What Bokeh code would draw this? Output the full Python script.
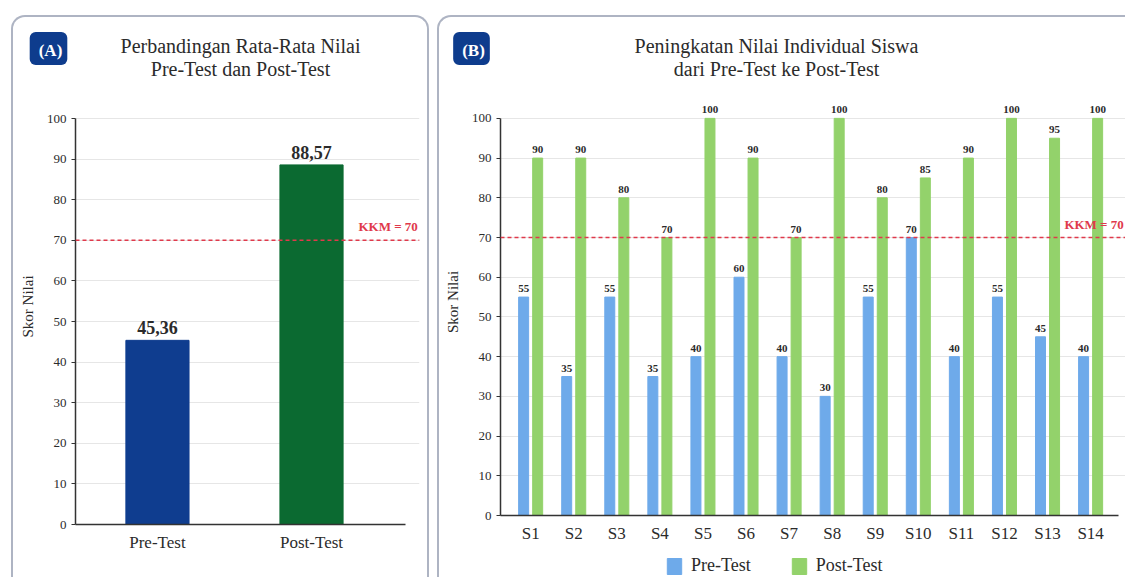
from bokeh.plotting import figure
from bokeh.models import (Range1d, ColumnDataSource, LabelSet, Label, Span,
                          Legend, LegendItem, FixedTicker)
from bokeh.layouts import row, column
from bokeh.embed import file_html
from bokeh.resources import INLINE

# ---------------- data ----------------
groups = ["Pre-Test", "Post-Test"]
group_means = [45.36, 88.57]
group_colors = ["#0f3d8f", "#0b6a31"]

students = ["S1", "S2", "S3", "S4", "S5", "S6", "S7", "S8", "S9", "S10",
            "S11", "S12", "S13", "S14"]
pre_scores = [55, 35, 55, 35, 40, 60, 40, 30, 55, 70, 40, 55, 45, 40]
post_scores = [90, 90, 80, 70, 100, 90, 70, 100, 80, 85, 90, 100, 95, 100]
series_names = ["Pre-Test", "Post-Test"]

kkm = 70
y_ticks = list(range(0, 101, 10))

SERIF = "Liberation Serif"
TXT = "#2b2b2b"
PRE_C = "#6eaaea"
POST_C = "#93d26b"
KKM_C = "#e0394b"
BORDER = "2px solid #aeb4c3"
HEAD_H = 63


def bare(p):
    p.outline_line_color = None
    p.border_fill_color = None
    p.background_fill_color = None
    p.frame_align = False


def style_axes(p, xbounds):
    p.xgrid.visible = False
    p.ygrid.ticker = FixedTicker(ticks=y_ticks)
    p.ygrid.grid_line_color = "#e6e6e6"
    p.outline_line_color = None
    p.border_fill_color = None
    p.background_fill_color = None
    p.frame_align = False
    for ax in (p.xaxis[0], p.yaxis[0]):
        ax.axis_line_color = "#333333"
        ax.axis_line_width = 1.5
        ax.major_label_text_font = SERIF
        ax.major_label_text_color = TXT
        ax.minor_tick_line_color = None
        ax.axis_label_text_font = SERIF
        ax.axis_label_text_font_style = "normal"
        ax.axis_label_text_color = TXT
    p.yaxis.ticker = FixedTicker(ticks=y_ticks)
    p.yaxis.bounds = (0, 100)
    p.yaxis.major_tick_out = 4
    p.yaxis.major_tick_in = 0
    p.yaxis.major_tick_line_color = "#333333"
    p.yaxis.major_label_text_font_size = "13px"
    p.yaxis.axis_label = "Skor Nilai"
    p.yaxis.axis_label_text_font_size = "15px"
    p.yaxis.axis_label_standoff = 8
    p.xaxis.bounds = xbounds
    p.xaxis.major_tick_line_color = None
    p.xaxis.major_tick_out = 0
    p.xaxis.major_tick_in = 0
    p.xaxis.major_label_text_font_size = "17px"
    p.xaxis.major_label_standoff = 8


def header(width, badge_x, badge_txt, title_x, l1, l2):
    h = figure(width=width, height=HEAD_H, x_range=Range1d(0, width),
               y_range=Range1d(HEAD_H, 0), x_axis_type=None, y_axis_type=None,
               output_backend="svg", toolbar_location=None, min_border=0)
    bare(h)
    h.grid.visible = False
    h.add_layout(Label(x=badge_x, y=31, text=badge_txt, text_font=SERIF,
                       text_font_style="bold", text_font_size="17px", text_color="white",
                       text_align="center", text_baseline="middle",
                       background_fill_color="#0e3c8d", padding=(9, 5, 9, 5),
                       border_radius=6))
    for yy, t in ((28, l1), (51, l2)):
        h.add_layout(Label(x=title_x, y=yy, text=t, text_font=SERIF, text_font_size="20px",
                           text_color=TXT, text_align="center", text_baseline="middle"))
    return h


# ---------------- panel A ----------------
WA = 414
hA = header(WA, 35, "(A)", 227, "Perbandingan Rata-Rata Nilai", "Pre-Test dan Post-Test")
pA = figure(width=WA, height=497, x_range=Range1d(-0.532, 1.701),
            y_range=Range1d(0, 107.39), output_backend="svg", toolbar_location=None,
            min_border_left=62, min_border_right=8, min_border_top=8, min_border_bottom=53)
style_axes(pA, (-0.532, 1.61))
pA.xaxis.ticker = FixedTicker(ticks=list(range(len(groups))))
pA.xaxis.major_label_overrides = {i: g for i, g in enumerate(groups)}

srcA = ColumnDataSource(dict(x=list(range(len(groups))), top=group_means, color=group_colors,
                             label=[f"{v:.2f}".replace(".", ",") for v in group_means]))
pA.vbar(x="x", top="top", width=0.41, color="color", source=srcA)
pA.add_layout(LabelSet(x="x", y="top", text="label", source=srcA, text_align="center",
                       text_baseline="bottom", y_offset=6, text_font=SERIF,
                       text_font_style="bold", text_font_size="18px", text_color=TXT))
pA.add_layout(Span(location=kkm, dimension="width", line_color=KKM_C, line_dash="4 3",
                   line_width=1.5))
pA.add_layout(Label(x=1.69, y=kkm, y_offset=6, text=f"KKM = {kkm}", text_font=SERIF,
                    text_font_style="bold", text_font_size="13px", text_color=KKM_C,
                    text_align="right", text_baseline="bottom"))
colA = column(hA, pA, spacing=0)
colA.styles = {"border-left": BORDER, "border-top": BORDER, "border-right": BORDER,
               "border-radius": "14px 14px 0 0"}
colA.margin = (15, 0, 0, 11)

# ---------------- panel B ----------------
WB = 686
hB = header(WB, 32, "(B)", 337, "Peningkatan Nilai Individual Siswa",
            "dari Pre-Test ke Post-Test")
pB = figure(width=WB, height=465, x_range=Range1d(-0.7, 13.81),
            y_range=Range1d(0, 107.52), output_backend="svg", toolbar_location=None,
            min_border_left=61, min_border_right=0, min_border_top=8, min_border_bottom=28)
style_axes(pB, (-0.7, 13.65))
pB.xaxis.ticker = FixedTicker(ticks=list(range(len(students))))
pB.xaxis.major_label_overrides = {i: s for i, s in enumerate(students)}

off = 0.163
bw = 0.232
xs = list(range(len(students)))
srcPre = ColumnDataSource(dict(x=[i - off for i in xs], top=pre_scores,
                               label=[str(v) for v in pre_scores]))
srcPost = ColumnDataSource(dict(x=[i + off for i in xs], top=post_scores,
                                label=[str(v) for v in post_scores]))
pB.vbar(x="x", top="top", width=bw, color=PRE_C, source=srcPre)
pB.vbar(x="x", top="top", width=bw, color=POST_C, source=srcPost)
for s in (srcPre, srcPost):
    pB.add_layout(LabelSet(x="x", y="top", text="label", source=s, text_align="center",
                           text_baseline="bottom", y_offset=5, text_font=SERIF,
                           text_font_style="bold", text_font_size="11px", text_color=TXT))
pB.add_layout(Span(location=kkm, dimension="width", line_color=KKM_C, line_dash="4 3",
                   line_width=1.5))
pB.add_layout(Label(x=13.77, y=kkm, y_offset=6, text=f"KKM = {kkm}", text_font=SERIF,
                    text_font_style="bold", text_font_size="13px", text_color=KKM_C,
                    text_align="right", text_baseline="bottom"))

# legend strip: hidden copies of the two series only provide the legend swatches
fB = figure(width=WB, height=32, x_range=Range1d(0, 1), y_range=Range1d(0, 1),
            x_axis_type=None, y_axis_type=None, output_backend="svg",
            toolbar_location=None, min_border=0)
bare(fB)
fB.grid.visible = False
sw_pre = fB.vbar(x=xs, top=pre_scores, width=bw, color=PRE_C, visible=False)
sw_post = fB.vbar(x=xs, top=post_scores, width=bw, color=POST_C, visible=False)
legend = Legend(items=[LegendItem(label=series_names[0], renderers=[sw_pre]),
                       LegendItem(label=series_names[1], renderers=[sw_post])],
                orientation="horizontal", location=(226, 1), border_line_color=None,
                background_fill_alpha=0, glyph_width=18, glyph_height=20,
                label_text_font=SERIF, label_text_font_size="18px", label_text_color=TXT,
                label_standoff=8, spacing=39, padding=2, margin=0,
                inactive_fill_alpha=0)
fB.add_layout(legend)

colB = column(hB, pB, fB, spacing=0)
colB.styles = {"border-left": BORDER, "border-top": BORDER, "border-radius": "14px 0 0 0"}
colB.margin = (15, 0, 0, 8)

layout = row(colA, colB)
open("out.html", "w").write(file_html(layout, INLINE))
